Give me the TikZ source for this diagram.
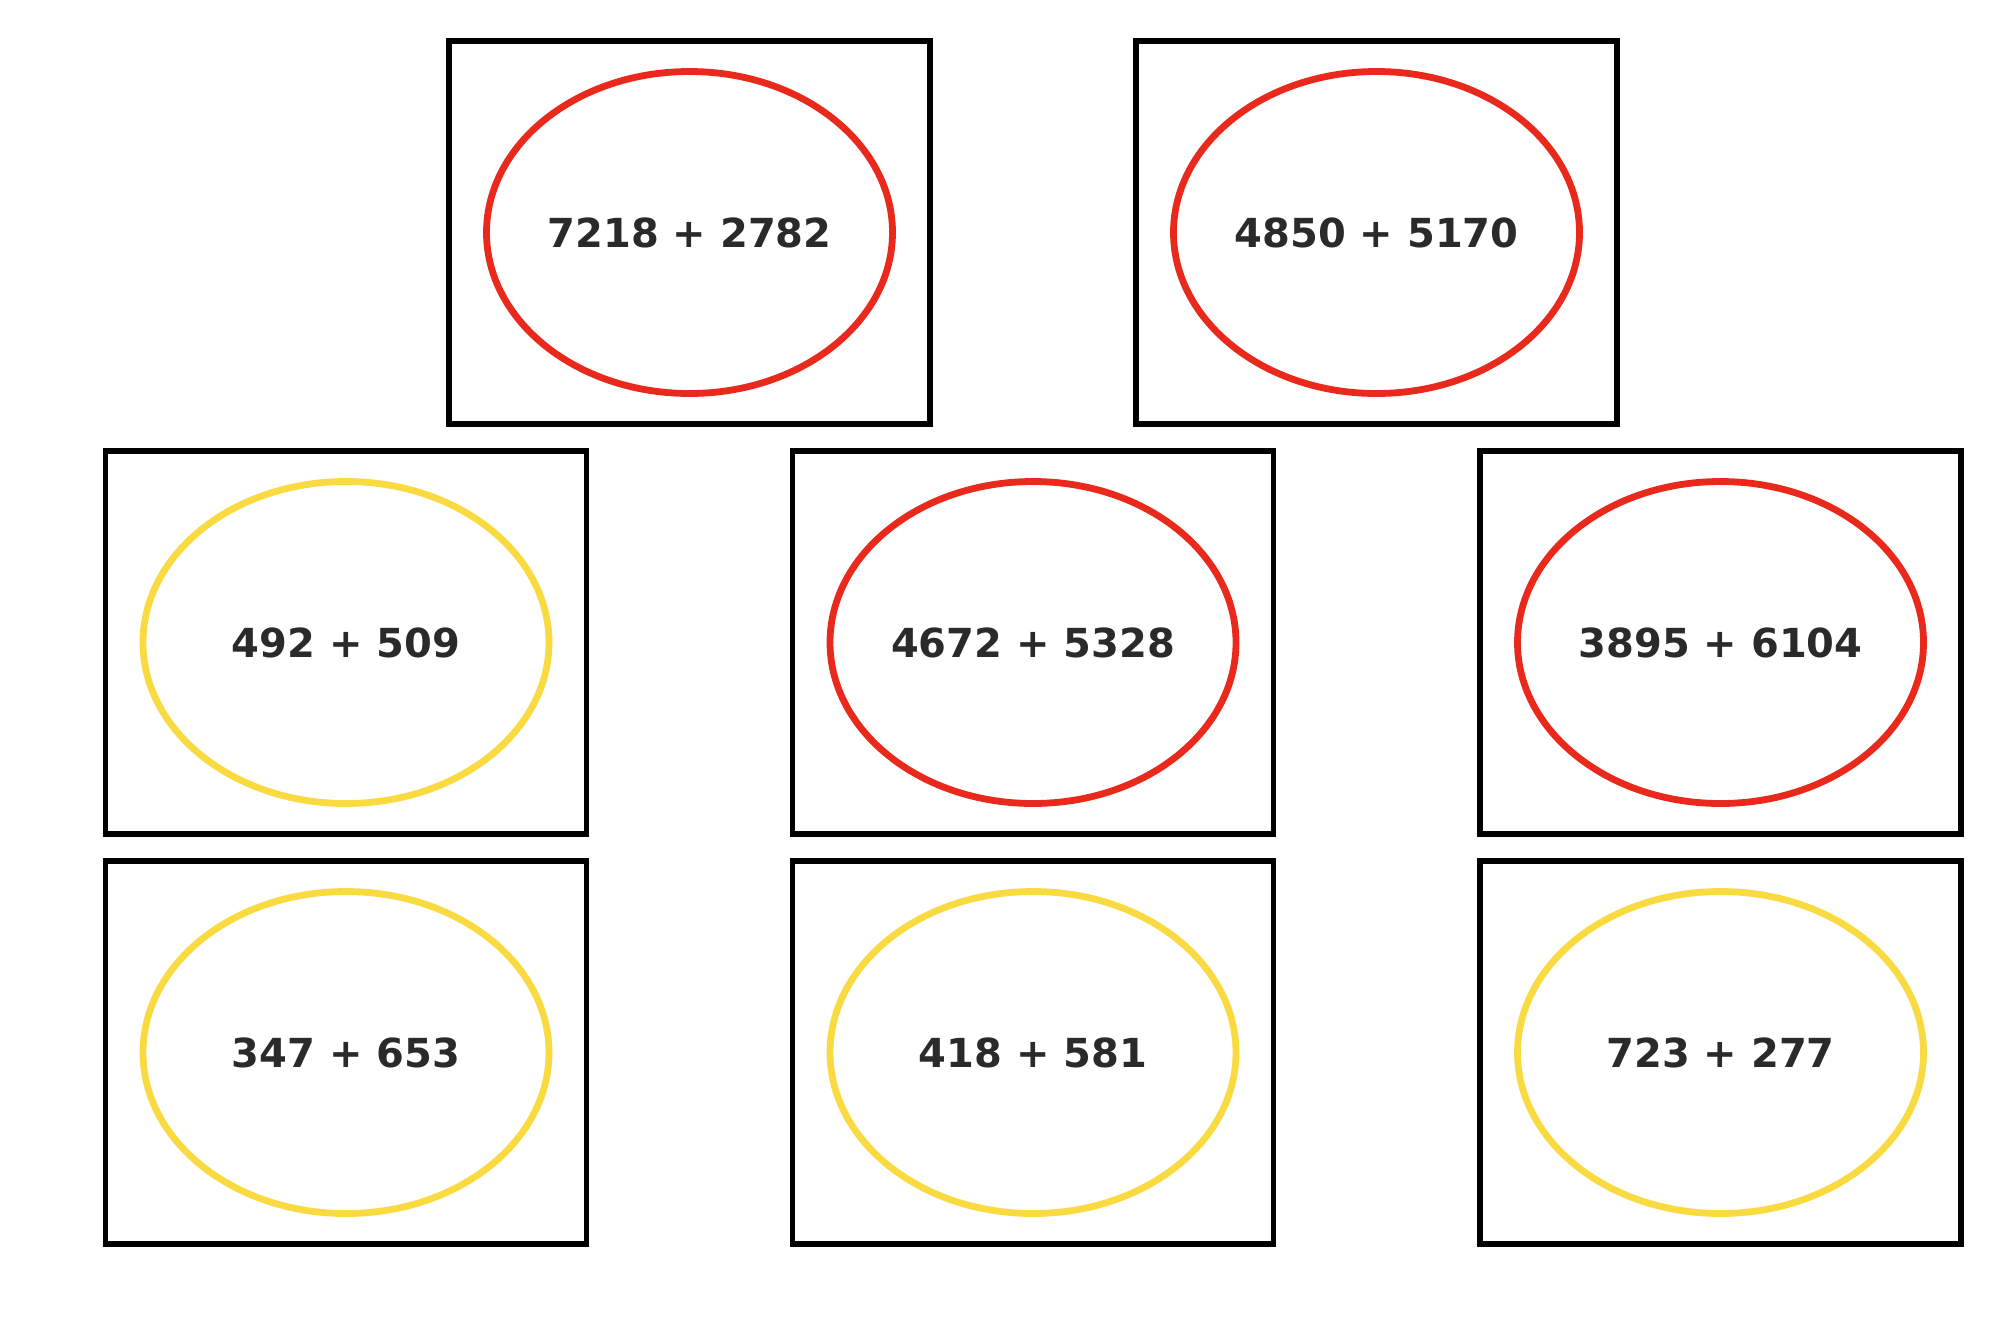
\documentclass[tikz,border=0pt]{standalone}
\usepackage{fontspec}
\setmainfont{DejaVu Sans}
\usetikzlibrary{shapes.geometric}
\definecolor{cred}{RGB}{232,41,28}
\definecolor{cyel}{RGB}{249,218,64}
\definecolor{ctxt}{RGB}{42,42,42}
\tikzset{
  card/.style={draw=black, line width=2.6pt, minimum width=240.5pt, minimum height=191.5pt, inner sep=0pt},
  sumoval/.style={ellipse, line width=3.4pt, minimum width=203pt, minimum height=161pt, inner sep=0pt,
    font=\fontsize{20}{24}\selectfont\bfseries, text=ctxt},
  hard/.style={sumoval, draw=cred},
  easy/.style={sumoval, draw=cyel}
}
\begin{document}
\begin{tikzpicture}[x=0.5pt, y=-0.5pt]
\useasboundingbox (0,0) rectangle (2000,1340);
\node[card] (b1) at (689.5,232.5) {};
\node[hard] (e1) at (b1.center) {7218 + 2782};
\node[card] (b2) at (1376.5,232.5) {};
\node[hard] (e2) at (b2.center) {4850 + 5170};
\node[card] (b3) at (346,642.5) {};
\node[easy] (e3) at (b3.center) {492 + 509};
\node[card] (b4) at (1033,642.5) {};
\node[hard] (e4) at (b4.center) {4672 + 5328};
\node[card] (b5) at (1720.5,642.5) {};
\node[hard] (e5) at (b5.center) {3895 + 6104};
\node[card] (b6) at (346,1052.5) {};
\node[easy] (e6) at (b6.center) {347 + 653};
\node[card] (b7) at (1033,1052.5) {};
\node[easy] (e7) at (b7.center) {418 + 581};
\node[card] (b8) at (1720.5,1052.5) {};
\node[easy] (e8) at (b8.center) {723 + 277};
\end{tikzpicture}
\end{document}
